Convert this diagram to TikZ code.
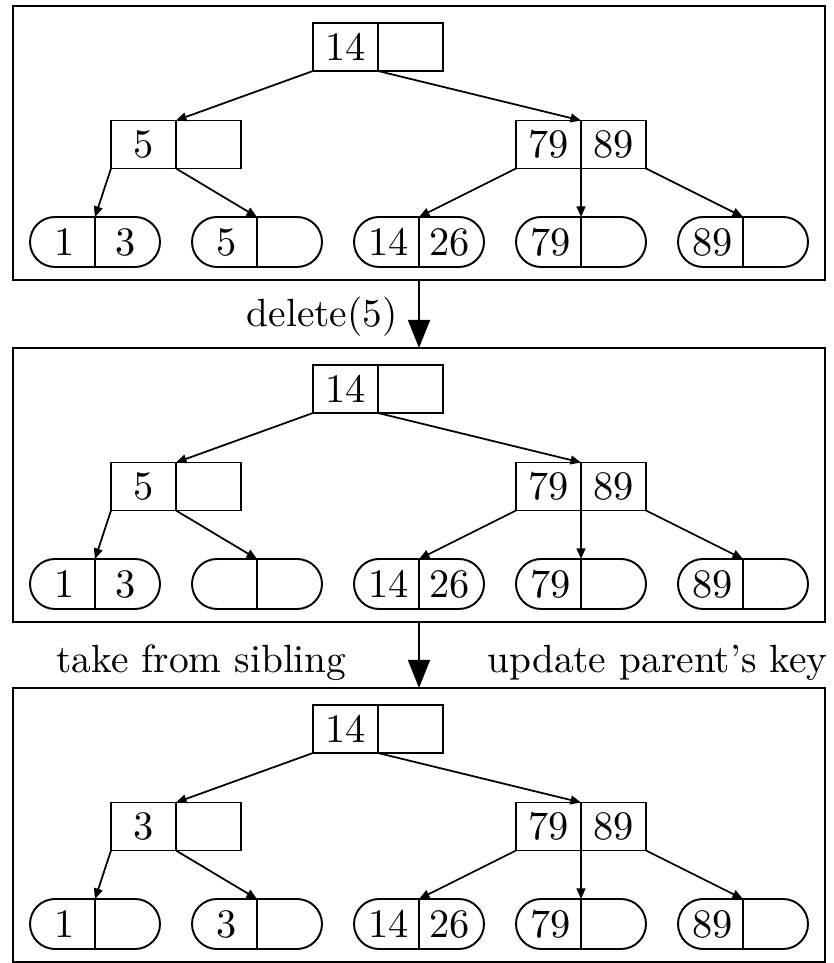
\documentclass[tikz,border=0pt]{standalone}
\usepackage{fontspec}
\usepackage{tikz}
\usetikzlibrary{arrows.meta,positioning,shapes.misc}
% ten point design, scaled up
\newfontfamily\tenrm{lmroman10-regular}[Extension=.otf]
\newcommand\keyfont{\tenrm\fontsize{23}{27}\selectfont}
\newcommand\stepfont{\tenrm\fontsize{22.4}{26}\selectfont}
\tikzset{
  keycell/.style={rectangle, draw, line width=1.1pt, minimum width=1.3cm, minimum height=0.96cm, inner sep=0pt, outer sep=0pt, font=\keyfont},
  leafleft/.style={rounded rectangle, rounded rectangle right arc=none, draw, line width=1.1pt, minimum width=1.3cm, minimum height=1.0cm, inner sep=0pt, outer sep=0pt, font=\keyfont},
  leafright/.style={rounded rectangle, rounded rectangle left arc=none, draw, line width=1.1pt, minimum width=1.3cm, minimum height=1.0cm, inner sep=0pt, outer sep=0pt, font=\keyfont},
  ptr/.style={-{Triangle[length=6pt,width=5pt]}, line width=1pt},
  panel/.style={rectangle, draw, line width=1.4pt, minimum width=16.24cm, minimum height=5.48cm, inner sep=0pt, outer sep=0pt},
  bigarrow/.style={-{Triangle[length=16pt,width=12.5pt]}, line width=1.1pt},
  steplabel/.style={font=\stepfont, inner sep=0pt},
}

\begin{document}
\begin{tikzpicture}[x=1cm,y=1cm]
  \useasboundingbox (0,0) rectangle (16.66,19.26);

  % one frame per state of the tree: number/top/inner key/leaf 1 second key/leaf 2 first key
  \foreach \p/\top/\m/\a/\b in {1/19.14/5/3/5, 2/12.30/5/3/{}, 3/5.50/3/{}/3} {
    \begin{scope}[shift={(0,\top)}]
      \node[panel] (pan\p) at (8.38,-2.74) {};

      \node[keycell, anchor=east] (rootL\p) at (7.56,-0.82) {14};
      \node[keycell, right=0pt of rootL\p] (rootR\p) {};

      \node[keycell, anchor=east] (midlL\p) at (3.52,-2.77) {\m};
      \node[keycell, right=0pt of midlL\p] (midlR\p) {};
      \node[keycell, anchor=east] (midrL\p) at (11.62,-2.77) {79};
      \node[keycell, right=0pt of midrL\p] (midrR\p) {89};

      \node[leafleft, anchor=east] (lf1L\p) at (1.90,-4.72) {1};
      \node[leafright, right=0pt of lf1L\p] (lf1R\p) {\a};
      \node[leafleft, anchor=east] (lf2L\p) at (5.14,-4.72) {\b};
      \node[leafright, right=0pt of lf2L\p] (lf2R\p) {};
      \node[leafleft, anchor=east] (lf3L\p) at (8.38,-4.72) {14};
      \node[leafright, right=0pt of lf3L\p] (lf3R\p) {26};
      \node[leafleft, anchor=east] (lf4L\p) at (11.62,-4.72) {79};
      \node[leafright, right=0pt of lf4L\p] (lf4R\p) {};
      \node[leafleft, anchor=east] (lf5L\p) at (14.86,-4.72) {89};
      \node[leafright, right=0pt of lf5L\p] (lf5R\p) {};

      \draw[ptr] (rootL\p.south west) -- (midlL\p.north east);
      \draw[ptr] (rootL\p.south east) -- (midrL\p.north east);
      \draw[ptr] (midlL\p.south west) -- (lf1R\p.north west);
      \draw[ptr] (midlL\p.south east) -- (lf2R\p.north west);
      \draw[ptr] (midrL\p.south west) -- (lf3R\p.north west);
      \draw[ptr] (midrL\p.south east) -- (lf4R\p.north west);
      \draw[ptr] (midrR\p.south east) -- (lf5R\p.north west);
    \end{scope}
  }

  \draw[bigarrow] (pan1.south) -- (pan2.north);
  \draw[bigarrow] (pan2.south) -- (pan3.north);

  \node[steplabel, anchor=base east] (del) at (7.96,12.72) {delete(5)};
  \node[steplabel, anchor=base west] (take) at (1.12,5.80) {take from sibling};
  \node[steplabel, anchor=base east] (upd) at (16.56,5.80) {update parent’s key};
\end{tikzpicture}
\end{document}
